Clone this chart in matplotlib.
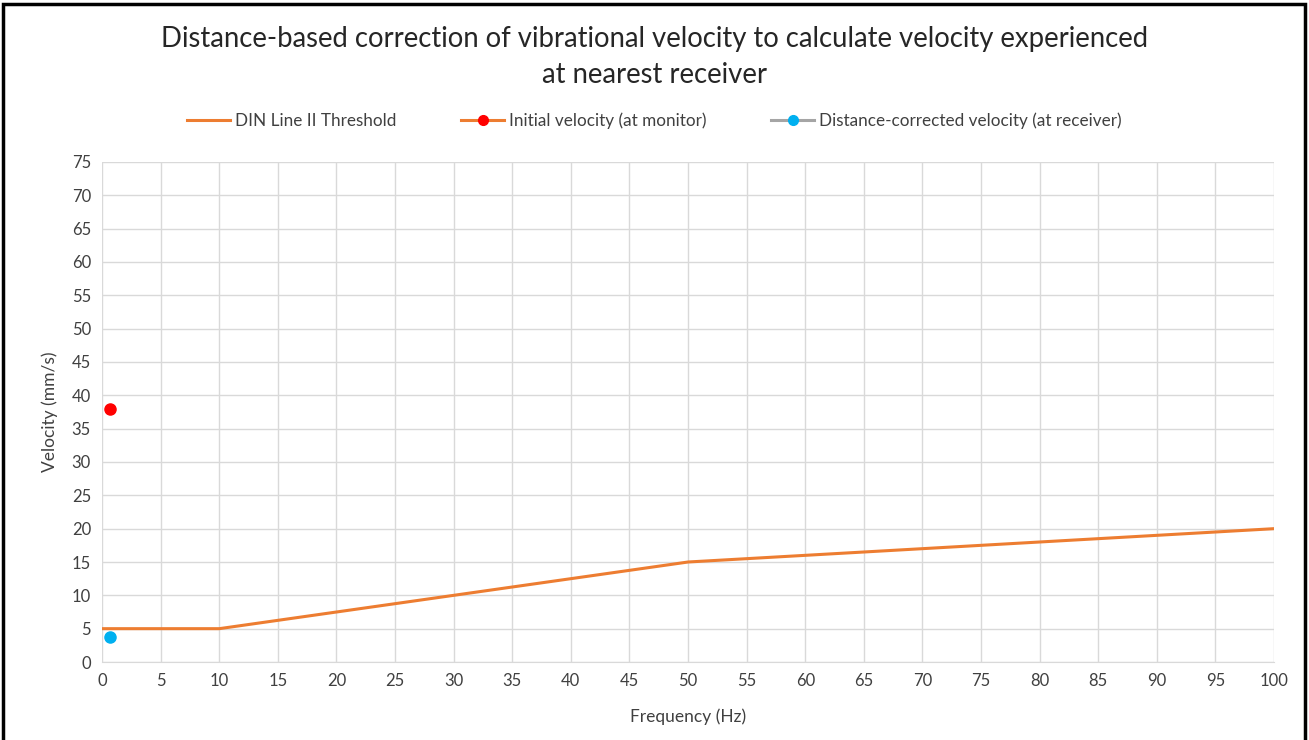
import matplotlib.pyplot as plt
from matplotlib.lines import Line2D
from matplotlib.patches import Rectangle

plt.rcParams['font.family'] = ['Lato', 'DejaVu Sans']

# DIN 4150-3 Line II threshold
din_freq = [0, 10, 50, 100]
din_vel = [5, 5, 15, 20]

# measured points
freq_pt = [0.7]
initial_vel = [38]
corrected_vel = [3.8]

orange = '#ed7d31'
txt = '#404040'

fig = plt.figure(figsize=(13.09, 7.4), dpi=100)
ax = fig.add_axes([0.078, 0.1054, 0.8953, 0.6757])

ax.plot(din_freq, din_vel, color=orange, lw=2.2, zorder=3)
ax.plot(freq_pt, initial_vel, 'o', color='#ff0000', ms=8, zorder=4)
ax.plot(freq_pt, corrected_vel, 'o', color='#00b0f0', ms=8, zorder=4)

ax.set_xlim(0, 100)
ax.set_ylim(0, 75)
ax.set_xticks(range(0, 101, 5))
ax.set_yticks(range(0, 76, 5))
ax.grid(True, color='#d9d9d9', lw=1)
ax.set_axisbelow(True)
for s in ax.spines.values():
    s.set_visible(False)
ax.spines['bottom'].set_visible(True)
ax.spines['bottom'].set_color('#d9d9d9')
ax.tick_params(length=0, labelsize=12, colors=txt, pad=8)
ax.set_xlabel('Frequency (Hz)', fontsize=12.5, color=txt, labelpad=14)
ax.set_ylabel('Velocity (mm/s)', fontsize=12.5, color=txt, labelpad=10)

fig.text(0.5, 0.923, 'Distance-based correction of vibrational velocity to calculate velocity experienced\nat nearest receiver',
         ha='center', va='center', fontsize=19.8, color='#262626', linespacing=1.45)

handles = [
    Line2D([], [], color=orange, lw=2.2),
    Line2D([], [], color=orange, lw=2.2, marker='o', mfc='#ff0000', mec='#ff0000', ms=7),
    Line2D([], [], color='#a5a5a5', lw=2.2, marker='o', mfc='#00b0f0', mec='#00b0f0', ms=7),
]
labels = ['DIN Line II Threshold', 'Initial velocity (at monitor)',
          'Distance-corrected velocity (at receiver)']
fig.legend(handles, labels, loc='center', bbox_to_anchor=(0.5, 0.837), ncol=3,
           frameon=False, fontsize=12.3, labelcolor=txt, columnspacing=3.8,
           handlelength=2.5, handletextpad=0.3)

fig.patches.append(Rectangle((0.002, -0.01), 0.995, 1.005, transform=fig.transFigure,
                             fill=False, ec='black', lw=2.5))

fig.savefig('out.png', dpi=100)
